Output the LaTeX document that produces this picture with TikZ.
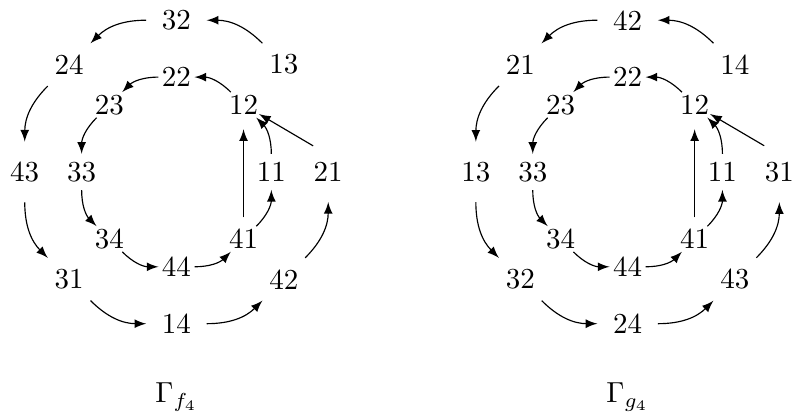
\documentclass[tikz,border=0pt]{standalone}
\usepackage{amssymb}
\usepackage{amsmath}
\usetikzlibrary{arrows}

\begin{document}
\begin{tikzpicture}[>=latex, link/.style={->},
          outerv/.style={circle, inner sep=3pt},
          innerv/.style={circle, inner sep=0pt}]

          \useasboundingbox (-2.14,-2.97) rectangle (7.5,2.085);

          % Left graph: outer ring
          \node[outerv] (f32) at (90:1.84) {32};
          \node[outerv] (f24) at (135:1.84) {24};
          \node[outerv] (f43) at (180:1.84) {43};
          \node[outerv] (f31) at (225:1.84) {31};
          \node[outerv] (f14) at (270:1.84) {14};
          \node[outerv] (f42) at (315:1.84) {42};
          \node[outerv] (f21) at (0:1.84) {21};
          \node[outerv] (f13) at (45:1.84) {13};

          % Left graph: inner ring
          \node[innerv] (f22) at (90:1.15) {22};
          \node[innerv] (f23) at (135:1.15) {23};
          \node[innerv] (f33) at (180:1.15) {33};
          \node[innerv] (f34) at (225:1.15) {34};
          \node[innerv] (f44) at (270:1.15) {44};
          \node[innerv] (f41) at (315:1.15) {41};
          \node[innerv] (f11) at (0:1.15) {11};
          \node[innerv] (f12) at (45:1.15) {12};

          \draw[link] (f13) to[bend right=22.5] (f32);
          \draw[link] (f32) to[bend right=22.5] (f24);
          \draw[link] (f24) to[bend right=22.5] (f43);
          \draw[link] (f43) to[bend right=22.5] (f31);
          \draw[link] (f31) to[bend right=22.5] (f14);
          \draw[link] (f14) to[bend right=22.5] (f42);
          \draw[link] (f42) to[bend right=22.5] (f21);
          \draw[link] (f21.120) -- (f12);

          \draw[link] (f12) to[bend right=22.5] (f22);
          \draw[link] (f22) to[bend right=22.5] (f23);
          \draw[link] (f23) to[bend right=22.5] (f33);
          \draw[link] (f33) to[bend right=22.5] (f34);
          \draw[link] (f34) to[bend right=22.5] (f44);
          \draw[link] (f44) to[bend right=22.5] (f41);
          \draw[link] (f41) to[bend right=22.5] (f11);
          \draw[link] (f11) to[bend right=22.5] (f12);
          \draw[link, shorten <=1.2pt, shorten >=2.2pt] (f41) -- (f12);

          \node[anchor=base] (fname) at (0,-2.8) {$\Gamma_{f_4}$};

          \begin{scope}[xshift=5.47cm]
          % Right graph: outer ring
          \node[outerv] (g42) at (90:1.84) {42};
          \node[outerv] (g21) at (135:1.84) {21};
          \node[outerv] (g13) at (180:1.84) {13};
          \node[outerv] (g32) at (225:1.84) {32};
          \node[outerv] (g24) at (270:1.84) {24};
          \node[outerv] (g43) at (315:1.84) {43};
          \node[outerv] (g31) at (0:1.84) {31};
          \node[outerv] (g14) at (45:1.84) {14};

          % Right graph: inner ring
          \node[innerv] (g22) at (90:1.15) {22};
          \node[innerv] (g23) at (135:1.15) {23};
          \node[innerv] (g33) at (180:1.15) {33};
          \node[innerv] (g34) at (225:1.15) {34};
          \node[innerv] (g44) at (270:1.15) {44};
          \node[innerv] (g41) at (315:1.15) {41};
          \node[innerv] (g11) at (0:1.15) {11};
          \node[innerv] (g12) at (45:1.15) {12};

          \draw[link] (g14) to[bend right=22.5] (g42);
          \draw[link] (g42) to[bend right=22.5] (g21);
          \draw[link] (g21) to[bend right=22.5] (g13);
          \draw[link] (g13) to[bend right=22.5] (g32);
          \draw[link] (g32) to[bend right=22.5] (g24);
          \draw[link] (g24) to[bend right=22.5] (g43);
          \draw[link] (g43) to[bend right=22.5] (g31);
          \draw[link] (g31.120) -- (g12);

          \draw[link] (g12) to[bend right=22.5] (g22);
          \draw[link] (g22) to[bend right=22.5] (g23);
          \draw[link] (g23) to[bend right=22.5] (g33);
          \draw[link] (g33) to[bend right=22.5] (g34);
          \draw[link] (g34) to[bend right=22.5] (g44);
          \draw[link] (g44) to[bend right=22.5] (g41);
          \draw[link] (g41) to[bend right=22.5] (g11);
          \draw[link] (g11) to[bend right=22.5] (g12);
          \draw[link, shorten <=1.2pt, shorten >=2.2pt] (g41) -- (g12);

          \node[anchor=base] (gname) at (0,-2.8) {$\Gamma_{g_4}$};
          \end{scope}

\end{tikzpicture}
\end{document}
